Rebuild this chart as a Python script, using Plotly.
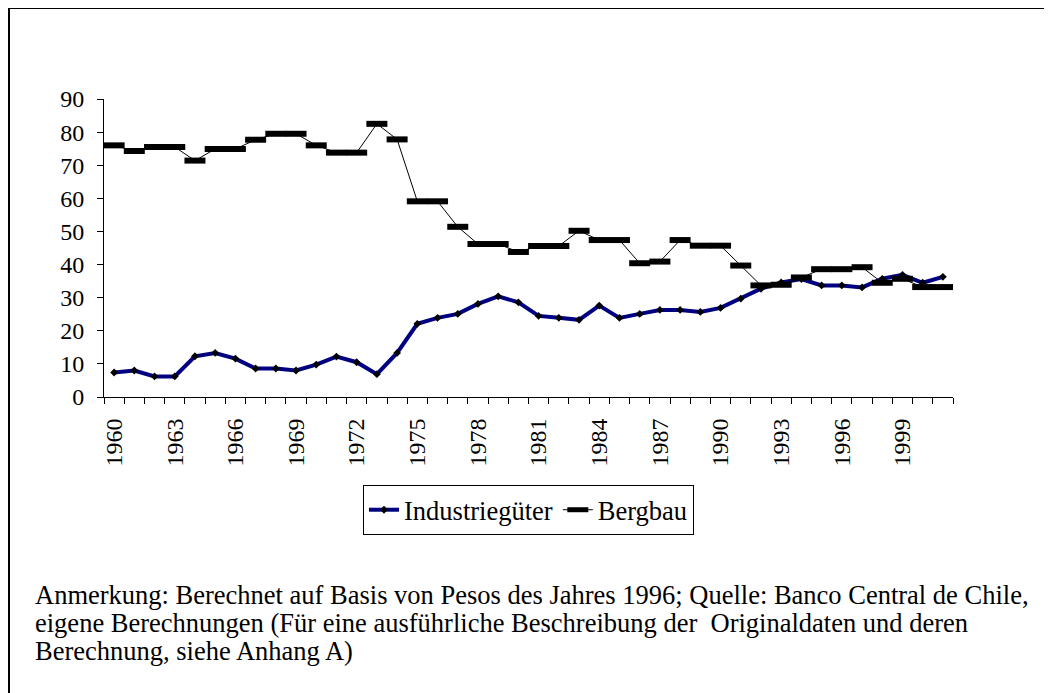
import plotly.graph_objects as go

years = list(range(1960, 2002))

industriegueter = [7.4, 8.0, 6.2, 6.2, 12.3, 13.3, 11.6, 8.6, 8.6, 8.0,
                   9.8, 12.2, 10.5, 6.9, 13.3, 22.1, 23.9, 25.1, 28.1, 30.4,
                   28.6, 24.5, 23.9, 23.3, 27.6, 23.9, 25.1, 26.3, 26.3, 25.7,
                   26.9, 29.7, 32.7, 34.6, 35.6, 33.7, 33.7, 33.1, 35.7, 36.9,
                   34.5, 36.3]

bergbau = [76.0, 74.3, 75.5, 75.5, 71.4, 74.9, 74.9, 77.7, 79.5, 79.5,
           76.0, 73.8, 73.8, 82.5, 77.8, 59.1, 59.1, 51.4, 46.2, 46.2,
           43.8, 45.6, 45.6, 50.2, 47.4, 47.4, 40.4, 40.9, 47.4, 45.7,
           45.7, 39.7, 33.7, 33.9, 36.1, 38.6, 38.6, 39.2, 34.5, 35.7,
           33.2, 33.2]

tick_years = list(range(1960, 2000, 3))
tick_labels = [str(y) for y in tick_years]

note_lines = [
    "Anmerkung: Berechnet auf Basis von Pesos des Jahres 1996; Quelle: Banco Central de Chile,",
    "eigene Berechnungen (Für eine ausführliche Beschreibung der \u00a0Originaldaten und deren",
    "Berechnung, siehe Anhang A)",
]

FONT = "Times New Roman"
TICK_FS = 24
TEXT_FS = 26.5
W, H = 1052, 693
L, R, T, B = 96, 107, 91, 304
pw = W - L - R
ph = H - T - B
bottom_px = H - B


def px_x(x):
    return (x - L) / pw


def px_y(y):
    return (bottom_px - y) / ph


fig = go.Figure()

fig.add_trace(go.Scatter(
    x=years, y=industriegueter, name="Industriegüter",
    mode="lines+markers",
    line=dict(color="#000080", width=4),
    marker=dict(symbol="diamond", size=6, color="black"),
))

fig.add_trace(go.Scatter(
    x=years, y=bergbau, name="Bergbau",
    mode="lines+markers",
    line=dict(color="black", width=1),
    marker=dict(symbol="line-ew", size=15, color="black",
                line=dict(color="black", width=6)),
))

fig.update_layout(
    width=W, height=H,
    margin=dict(l=L, r=R, t=T, b=B, autoexpand=False),
    paper_bgcolor="white",
    plot_bgcolor="white",
    font=dict(family=FONT, size=TICK_FS, color="black"),
    showlegend=True,
    legend=dict(
        orientation="h",
        x=0.5, xanchor="center",
        y=px_y(477), yanchor="top",
        bordercolor="black", borderwidth=1,
        bgcolor="white",
        font=dict(family=FONT, size=TEXT_FS, color="black"),
        itemwidth=30,
    ),
)

fig.update_xaxes(
    range=[1959.5, 2001.5],
    tickmode="array", tickvals=tick_years, ticktext=tick_labels,
    tickangle=-90,
    ticks="",
    ticklabelstandoff=11,
    showline=True, linecolor="black", linewidth=1,
    showgrid=False, zeroline=False,
    tickfont=dict(family=FONT, size=TICK_FS, color="black"),
    minor=dict(ticks="outside", tick0=1959.5, dtick=1, ticklen=6,
               tickcolor="black", showgrid=False),
)

fig.update_yaxes(
    range=[0, 90],
    tickmode="linear", tick0=0, dtick=10,
    ticks="outside", ticklen=6, tickcolor="black",
    ticklabelstandoff=8,
    showline=True, linecolor="black", linewidth=1,
    showgrid=False, zeroline=False,
    tickfont=dict(family=FONT, size=TICK_FS, color="black"),
)

# outer frame
fig.add_shape(type="rect", xref="paper", yref="paper",
              x0=px_x(1), x1=px_x(1080), y0=px_y(720), y1=px_y(0),
              line=dict(color="black", width=2), fillcolor="rgba(0,0,0,0)",
              layer="below")

for txt, ypx in zip(note_lines, [587, 615, 643]):
    fig.add_annotation(
        text=txt, xref="paper", yref="paper",
        x=px_x(25), y=px_y(ypx), xanchor="left", yanchor="middle",
        showarrow=False, align="left",
        font=dict(family=FONT, size=TEXT_FS, color="black"),
    )

fig.write_html("out.html")
